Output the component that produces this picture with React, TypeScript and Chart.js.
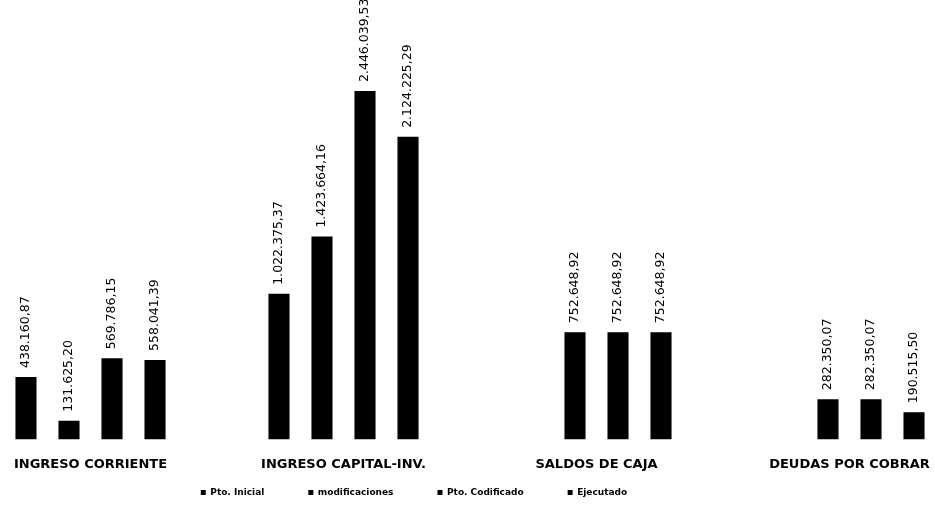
import React, { useEffect, useRef } from "react";
import { Chart, registerables } from "chart.js";

Chart.register(...registerables);

const categories = ["INGRESO CORRIENTE", "INGRESO CAPITAL-INV.", "SALDOS DE CAJA", "DEUDAS POR COBRAR"];
const seriesNames = ["Pto. Inicial", "modificaciones", "Pto. Codificado", "Ejecutado"];
const ptoInicial = [438160.87, 1022375.37, 0, 0];
const modificaciones = [131625.2, 1423664.16, 752648.92, 282350.07];
const ptoCodificado = [569786.15, 2446039.53, 752648.92, 282350.07];
const ejecutado = [558041.39, 2124225.29, 752648.92, 190515.5];

function fmt(v: number): string {
  const [i, d] = v.toFixed(2).split(".");
  return i.replace(/\B(?=(\d{3})+(?!\d))/g, ".") + "," + d;
}

const valueLabels = {
  id: "valueLabels",
  afterDatasetsDraw(chart: any) {
    const ctx = chart.ctx;
    ctx.save();
    ctx.fillStyle = "#000";
    ctx.font = "12.5px 'DejaVu Sans'";
    ctx.textAlign = "left";
    ctx.textBaseline = "middle";
    chart.data.datasets.forEach((ds: any, di: number) => {
      const meta = chart.getDatasetMeta(di);
      meta.data.forEach((el: any, i: number) => {
        const v = ds.data[i];
        if (!v) return;
        ctx.save();
        ctx.translate(el.x, el.y - 9);
        ctx.rotate(-Math.PI / 2);
        ctx.fillText(fmt(v), 0, 0);
        ctx.restore();
      });
    });
    ctx.restore();
  },
};

const LEGEND_PAD = 44;

const legendShift = {
  id: "legendShift",
  afterLayout(chart: any) {
    const lg = chart.legend;
    if (lg) {
      lg.left -= 56;
      lg.right -= 56;
      lg.top = 488 - LEGEND_PAD;
      lg.bottom = chart.height;
    }
  },
};

export default function App() {
  const ref = useRef<HTMLCanvasElement | null>(null);
  useEffect(() => {
    document.body.style.margin = "0";
    if (!ref.current) return;
    const data = [ptoInicial, modificaciones, ptoCodificado, ejecutado];
    const chart = new Chart(ref.current, {
      type: "bar",
      data: {
        labels: categories,
        datasets: seriesNames.map((n, k) => ({
          label: n,
          data: data[k],
          backgroundColor: "#000",
          borderWidth: 0,
          barPercentage: 0.49,
          categoryPercentage: 0.68,
        })),
      },
      options: {
        responsive: false,
        animation: false,
        events: [],
        layout: { padding: { top: 42, left: 0, right: 0, bottom: 0 } },
        scales: {
          x: {
            grid: { display: false, drawTicks: false },
            border: { display: false },
            ticks: {
              color: "#000",
              padding: 17,
              maxRotation: 0,
              autoSkip: false,
              font: { family: "'DejaVu Sans'", size: 13, weight: "bold" },
            },
          },
          y: { display: false, min: 0, max: 2790000 },
        },
        plugins: {
          legend: {
            position: "bottom",
            maxHeight: 21,
            labels: {
              color: "#000",
              boxWidth: 5,
              boxHeight: 5,
              padding: LEGEND_PAD,
              font: { family: "'DejaVu Sans'", size: 9, weight: "bold" },
            },
          },
          tooltip: { enabled: false },
        },
      },
      plugins: [valueLabels, legendShift],
    });
    return () => chart.destroy();
  }, []);
  return (
    <div style={{ position: "relative", width: 935, height: 510, overflow: "hidden", background: "#fff" }}>
      <canvas
        ref={ref}
        width={1012}
        height={510}
        style={{ position: "absolute", left: -36, top: 0, width: 1012, height: 510 }}
      />
    </div>
  );
}
